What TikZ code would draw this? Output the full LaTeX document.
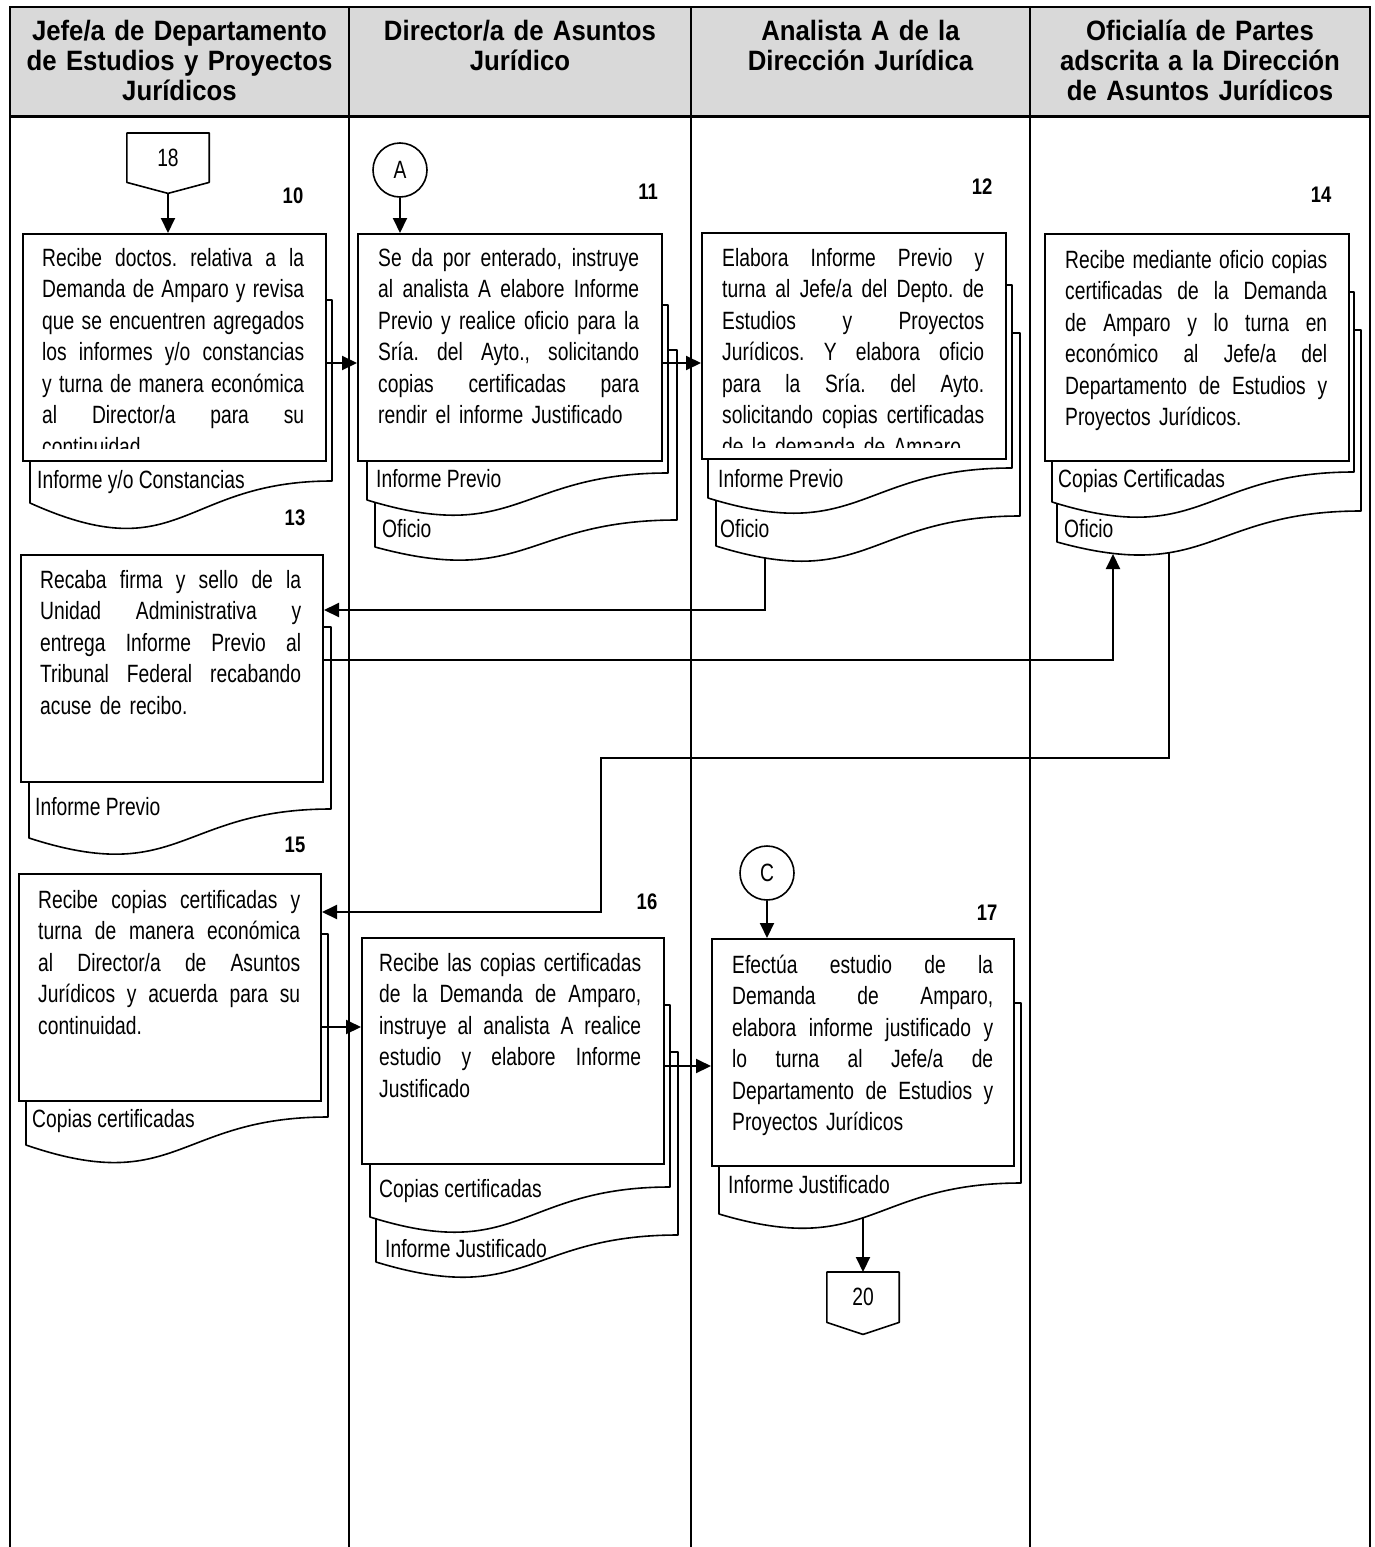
\documentclass[tikz,border=0pt]{standalone}
\usepackage{fontspec}
\setmainfont{Liberation Sans}
\newfontfamily\bodyfont[FakeStretch=0.77]{Liberation Sans}
\newfontfamily\headfont[FakeStretch=0.92]{Liberation Sans}
\newfontfamily\numfont[FakeStretch=0.82]{Liberation Sans}
\usetikzlibrary{arrows.meta}
\definecolor{hdrgray}{RGB}{217,217,217}
\newcommand\jl[1]{{\spaceskip=0.21em plus 1fil minus 0.05em\makebox[\hsize][s]{#1}}}
\newcommand\docshape[6]{%
  \path[docline] (#1,#2) -- (#3,#2) -- (#3,#4) .. controls ({(#1+#3)/2},#4) and ({(#1+#3)/2},#6) .. (#1,#5) -- cycle;}
\tikzset{
  tbl/.style={line width=2pt},
  pbox/.style={draw, line width=2pt, fill=white, inner sep=0pt, anchor=north west},
  docline/.style={draw, line width=1.6pt, fill=white, line join=round},
  bodytxt/.style={font=\bodyfont\frenchspacing\fontsize{25}{31.5}\selectfont, inner sep=0pt, anchor=base west},
  lbl/.style={font=\bodyfont\fontsize{25}{30}\selectfont, inner sep=0pt, anchor=base west},
  num/.style={font=\numfont\bfseries\fontsize{22.5}{24}\selectfont, inner sep=0pt},
  hdr/.style={font=\headfont\bfseries\fontsize{28}{30}\selectfont, align=center, text width=330pt, inner sep=0pt, anchor=base},
  conn/.style={draw, line width=1.6pt, circle, minimum size=54pt, inner sep=0pt, fill=white, font=\bodyfont\fontsize{25}{30}\selectfont},
  offp/.style={inner sep=0pt, anchor=north, font=\bodyfont\fontsize{25}{30}\selectfont},
  arr/.style={line width=2pt, -{Triangle[length=15pt,width=14pt]}},
}
\begin{document}
\begin{tikzpicture}[x=1pt,y=-1pt]
\useasboundingbox (0,0) rectangle (1374,1547);
% table
\fill[hdrgray] (10,7) rectangle (1370,116);
\draw[tbl] (10,1560) -- (10,7) -- (1370,7) -- (1370,1560);
\draw[tbl] (349,7) -- (349,1560);
\draw[tbl] (691,7) -- (691,1560);
\draw[tbl] (1030,7) -- (1030,1560);
\draw[line width=3pt] (10,116) -- (1370,116);
\node[hdr] (h1) at (179.5,40) {Jefe/a de Departamento\\de Estudios y Proyectos\\Jurídicos};
\node[hdr] (h2) at (520,40) {Director/a de Asuntos\\Jurídico};
\node[hdr] (h3) at (860.5,40) {Analista A de la\\Dirección Jurídica};
\node[hdr] (h4) at (1200,40) {Oficialía de Partes\\adscrita a la Dirección\\de Asuntos Jurídicos};

% step numbers
\node[num] (n10) at (293,196) {10};
\node[num] (n11) at (648,192) {11};
\node[num] (n12) at (982,187) {12};
\node[num] (n14) at (1321,195) {14};
\node[num] (n13) at (295,518) {13};
\node[num] (n15) at (295,845) {15};
\node[num] (n16) at (647,902) {16};
\node[num] (n17) at (987,913) {17};

% off-page 18 and connector A
\node[offp, minimum width=82pt, minimum height=49pt] (p18) at (168,133) {18};
\draw[line width=1.6pt, line join=round] (p18.north west) -- (p18.north east) -- (p18.south east) -- ([yshift=-11pt]p18.south) -- (p18.south west) -- cycle;
\coordinate (p18tip) at ([yshift=-11pt]p18.south);
\node[conn] (cA) at (400,170) {A};
\node[conn] (cC) at (767,873) {C};

% step 10
\docshape{30}{300}{332}{481}{503}{571}
\node[lbl] (l10) at (37,488) {Informe y/o Constancias};
\node[pbox, minimum width=303pt, minimum height=227pt] (b10) at (22,233) {};
\begin{scope}
\clip (22,233) rectangle (325,448);
\node[bodytxt, text width=262pt] (t10) at (42,266) {\jl{Recibe doctos. relativa a la}\par\jl{Demanda de Amparo y revisa}\par\jl{que se encuentren agregados}\par\jl{los informes y/o constancias}\par\jl{y turna de manera económica}\par\jl{al Director/a para su}\par continuidad.};
\end{scope}

% step 11
\docshape{375}{350}{677}{520}{547}{588}
\node[lbl] (l11b) at (382,537) {Oficio};
\docshape{367}{305}{668}{473}{500}{546}
\node[lbl] (l11a) at (376,487) {Informe Previo};
\node[pbox, minimum width=304pt, minimum height=227pt] (b11) at (357,233) {};
\node[bodytxt, text width=261pt] (t11) at (378,266) {\jl{Se da por enterado, instruye}\par\jl{al analista A elabore Informe}\par\jl{Previo y realice oficio para la}\par\jl{Sría. del Ayto., solicitando}\par\jl{copias certificadas para}\par rendir el informe Justificado};

% step 12
\docshape{716}{333}{1020}{516}{546}{593}
\node[lbl] (l12b) at (720,537) {Oficio};
\docshape{708}{285}{1012}{468}{498}{545}
\node[lbl] (l12a) at (718,487) {Informe Previo};
\node[pbox, minimum width=304pt, minimum height=226pt] (b12) at (701,232) {};
\begin{scope}
\clip (701,232) rectangle (1005,447);
\node[bodytxt, text width=262pt] (t12) at (722,266) {\jl{Elabora Informe Previo y}\par\jl{turna al Jefe/a del Depto. de}\par\jl{Estudios y Proyectos}\par\jl{Jurídicos. Y elabora oficio}\par\jl{para la Sría. del Ayto.}\par\jl{solicitando copias certificadas}\par de la demanda de Amparo};
\end{scope}

% step 14
\docshape{1057}{330}{1361}{511}{542}{584}
\node[lbl] (l14b) at (1064,537) {Oficio};
\docshape{1052}{292}{1354}{472}{502}{549}
\node[lbl] (l14a) at (1058,487) {Copias Certificadas};
\node[pbox, minimum width=304pt, minimum height=227pt] (b14) at (1044,233) {};
\node[bodytxt, text width=262pt] (t14) at (1065,268) {\jl{Recibe mediante oficio copias}\par\jl{certificadas de la Demanda}\par\jl{de Amparo y lo turna en}\par\jl{económico al Jefe/a del}\par\jl{Departamento de Estudios y}\par Proyectos Jurídicos.};

% step 13
\docshape{29}{627}{331}{809}{838}{887}
\node[lbl] (l13) at (35,815) {Informe Previo};
\node[pbox, minimum width=302pt, minimum height=227pt] (b13) at (20,554) {};
\node[bodytxt, text width=261pt] (t13) at (40,588) {\jl{Recaba firma y sello de la}\par\jl{Unidad Administrativa y}\par\jl{entrega Informe Previo al}\par\jl{Tribunal Federal recabando}\par acuse de recibo.};

% step 15
\docshape{26}{934}{328}{1117}{1145}{1197}
\node[lbl] (l15) at (32,1127) {Copias certificadas};
\node[pbox, minimum width=302pt, minimum height=227pt] (b15) at (18,873) {};
\node[bodytxt, text width=262pt] (t15) at (38,908) {\jl{Recibe copias certificadas y}\par\jl{turna de manera económica}\par\jl{al Director/a de Asuntos}\par\jl{Jurídicos y acuerda para su}\par continuidad.};

% step 16
\docshape{376}{1052}{678}{1235}{1262}{1308}
\node[lbl] (l16b) at (385,1257) {Informe Justificado};
\docshape{370}{1005}{670}{1187}{1217}{1264}
\node[lbl] (l16a) at (379,1197) {Copias certificadas};
\node[pbox, minimum width=302pt, minimum height=226pt] (b16) at (361,937) {};
\node[bodytxt, text width=262pt] (t16) at (379,971) {\jl{Recibe las copias certificadas}\par\jl{de la Demanda de Amparo,}\par\jl{instruye al analista A realice}\par\jl{estudio y elabore Informe}\par Justificado};

% step 17
\docshape{719}{1003}{1021}{1183}{1214}{1259}
\node[lbl] (l17) at (728,1193) {Informe Justificado};
\node[pbox, minimum width=302pt, minimum height=227pt] (b17) at (711,938) {};
\node[bodytxt, text width=261pt] (t17) at (732,973) {\jl{Efectúa estudio de la}\par\jl{Demanda de Amparo,}\par\jl{elabora informe justificado y}\par\jl{lo turna al Jefe/a de}\par\jl{Departamento de Estudios y}\par Proyectos Jurídicos};

% off-page 20
\node[offp, minimum width=72pt, minimum height=50pt] (p20) at (863,1272) {20};
\draw[line width=1.6pt, line join=round] (p20.north west) -- (p20.north east) -- (p20.south east) -- ([yshift=-12pt]p20.south) -- (p20.south west) -- cycle;

% connectors
\coordinate (r1) at (0,363);
\coordinate (r2) at (0,610);
\coordinate (r3) at (0,660);
\coordinate (r4) at (0,912);
\coordinate (r5) at (0,1027);
\coordinate (r6) at (0,1066);
\coordinate (d12s) at (765,558);
\coordinate (d14in) at (1113,554);
\coordinate (d14s) at (1169,553);
\coordinate (k1) at (601,758);
\coordinate (d17s) at (863,1218);
\draw[arr] (p18tip) -- (p18tip |- b10.north);
\draw[arr] (cA.south) -- (cA.south |- b11.north);
\draw[arr] (b10.east |- r1) -- (b11.west |- r1);
\draw[arr] (b11.east |- r1) -- (b12.west |- r1);
\draw[arr] (d12s) |- (b13.east |- r2);
\draw[arr] (b13.east |- r3) -| (d14in);
\draw[arr] (d14s) |- (k1) |- (b15.east |- r4);
\draw[arr] (b15.east |- r5) -- (b16.west |- r5);
\draw[arr] (b16.east |- r6) -- (b17.west |- r6);
\draw[arr] (cC.south) -- (cC.south |- b17.north);
\draw[arr] (d17s) -- (d17s |- p20.north);
\end{tikzpicture}
\end{document}
